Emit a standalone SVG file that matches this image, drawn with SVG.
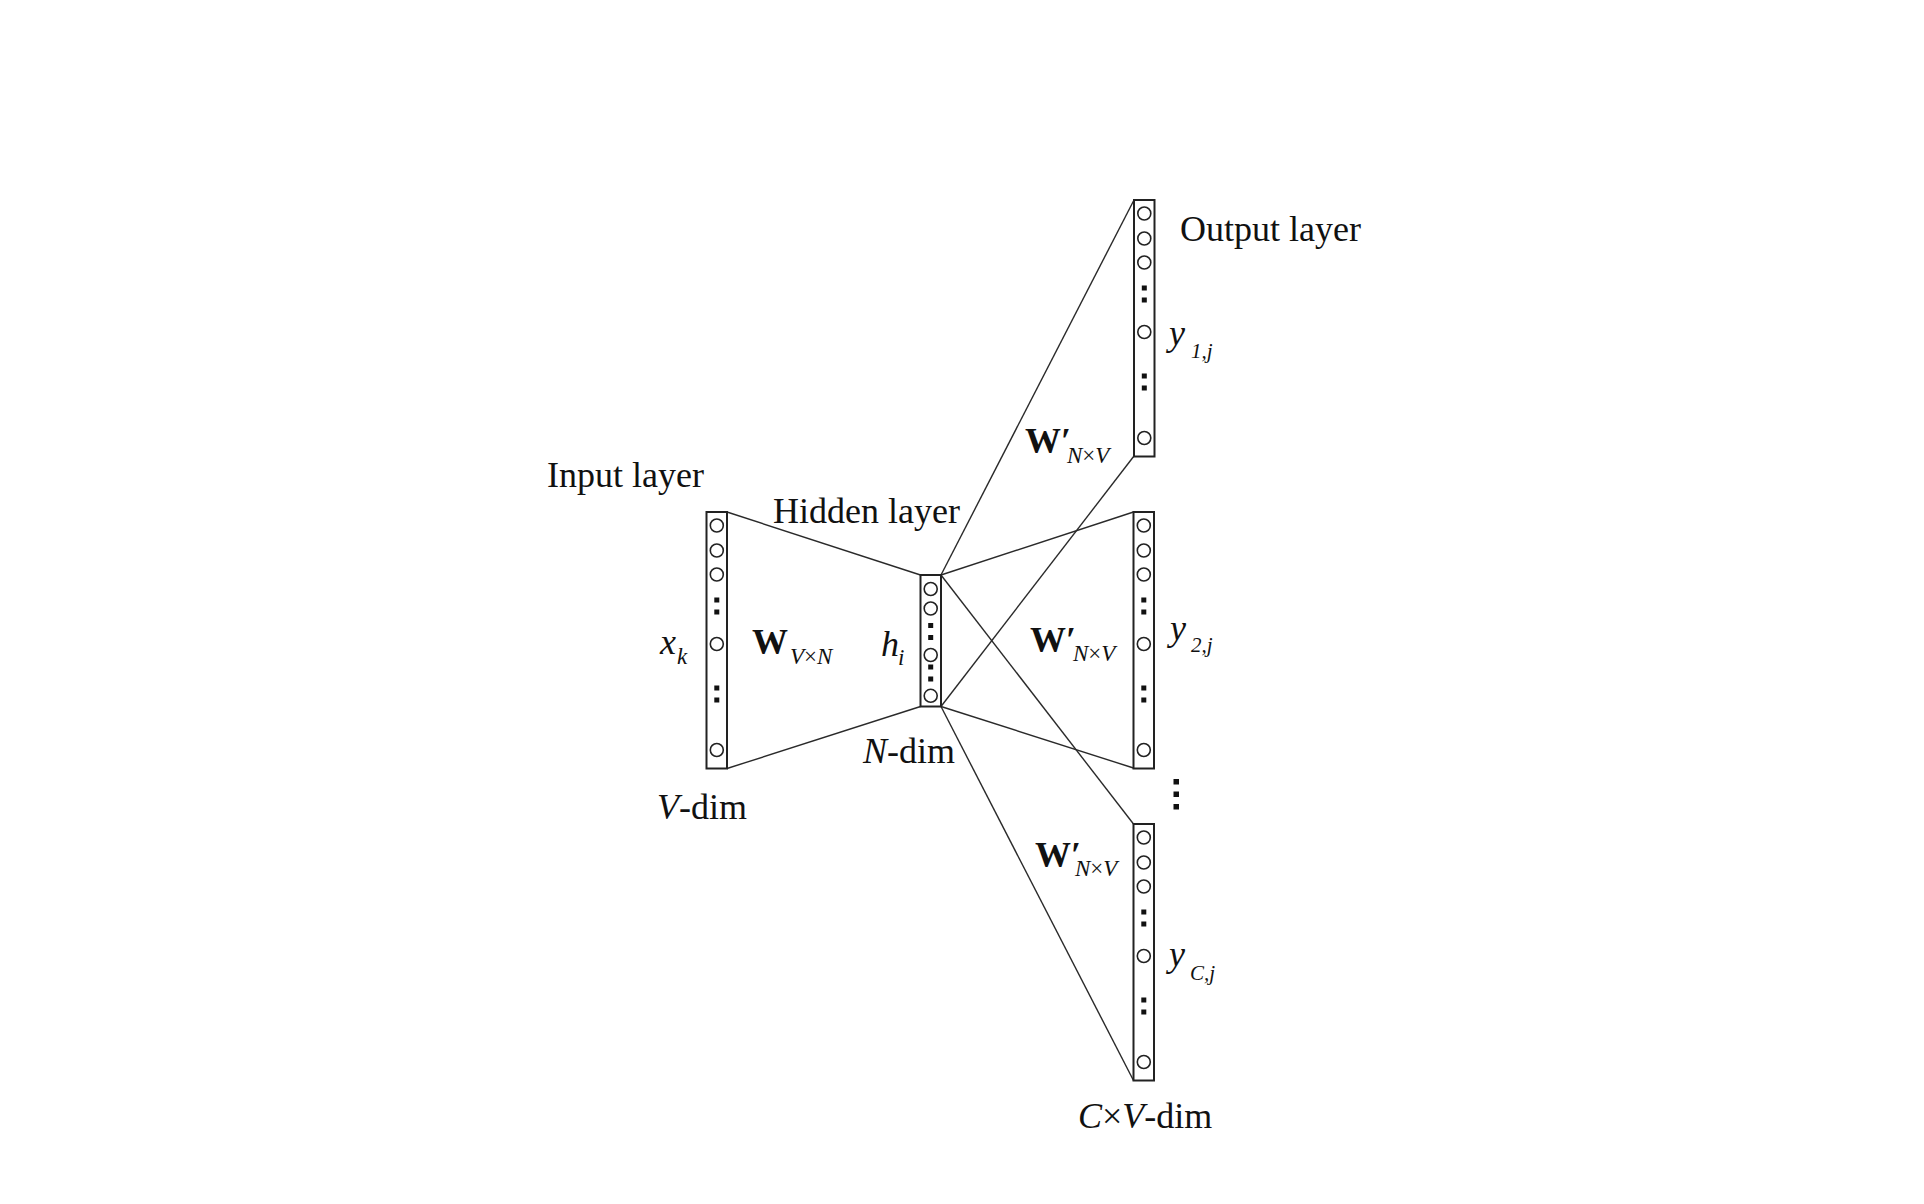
<svg xmlns="http://www.w3.org/2000/svg" xmlns:xlink="http://www.w3.org/1999/xlink" width="1924" height="1204" viewBox="0 0 1924 1204">
<style>
.box{fill:#fff;stroke:#222;stroke-width:2}
.neuron{fill:#fff;stroke:#222;stroke-width:1.6}
.dot{fill:#111}
.conn{stroke:#2a2a2a;stroke-width:1.4;fill:none}
text{font-family:"Liberation Serif","Times New Roman",serif;fill:#111}
.t{font-size:36px}
.sub{font-size:23px;font-style:italic;font-weight:normal}
.ysub{font-size:21px;font-style:italic}
.it{font-style:italic}
.up{font-style:normal}
.bold{font-weight:bold}
</style>
<defs>
<g id="col">
<rect class="box" x="0" y="0" width="20.5" height="256.5"/>
<circle class="neuron" cx="10.3" cy="13.5" r="6.5"/>
<circle class="neuron" cx="10.3" cy="38.5" r="6.5"/>
<circle class="neuron" cx="10.3" cy="62.5" r="6.5"/>
<rect class="dot" x="7.8" y="85.5" width="5" height="5"/>
<rect class="dot" x="7.8" y="97.5" width="5" height="5"/>
<circle class="neuron" cx="10.3" cy="132" r="6.5"/>
<rect class="dot" x="7.8" y="173.5" width="5" height="5"/>
<rect class="dot" x="7.8" y="185.5" width="5" height="5"/>
<circle class="neuron" cx="10.3" cy="238" r="6.5"/>
</g>
</defs>
<rect width="1924" height="1204" fill="#fff"/>
<g id="connectors">
<line class="conn" x1="727" y1="512" x2="920.5" y2="575"/>
<line class="conn" x1="727" y1="768.5" x2="920.5" y2="706.5"/>
<line class="conn" x1="941" y1="575" x2="1134" y2="200"/>
<line class="conn" x1="941" y1="706.5" x2="1134" y2="456"/>
<line class="conn" x1="941" y1="575" x2="1133.5" y2="512"/>
<line class="conn" x1="941" y1="706.5" x2="1133.5" y2="768"/>
<line class="conn" x1="941" y1="575" x2="1133.5" y2="824"/>
<line class="conn" x1="941" y1="706.5" x2="1133.5" y2="1080.5"/>
</g>
<g id="input-layer">
<use xlink:href="#col" href="#col" x="706.5" y="512"/>
<text class="t" x="547" y="487">Input layer</text>
<text class="t" x="660" y="654"><tspan class="it">x</tspan><tspan class="sub" x="677" dy="10">k</tspan></text>
<text class="t" x="752" y="654"><tspan class="bold">W</tspan><tspan class="sub" x="790" dy="10">V<tspan class="up">×</tspan>N</tspan></text>
<text class="t" x="657" y="819"><tspan class="it">V</tspan>-dim</text>
</g>
<g id="hidden-layer">
<rect class="box" x="920.5" y="575" width="20.5" height="131.5"/>
<circle class="neuron" cx="930.7" cy="589" r="6.5"/>
<circle class="neuron" cx="930.7" cy="608.5" r="6.5"/>
<rect class="dot" x="928.2" y="623" width="5" height="5"/>
<rect class="dot" x="928.2" y="635" width="5" height="5"/>
<circle class="neuron" cx="930.7" cy="655" r="6.5"/>
<rect class="dot" x="928.2" y="664.5" width="5" height="5"/>
<rect class="dot" x="928.2" y="676.5" width="5" height="5"/>
<circle class="neuron" cx="930.7" cy="695.8" r="6.5"/>
<text class="t" x="773" y="523">Hidden layer</text>
<text class="t" x="881" y="656"><tspan class="it">h</tspan><tspan class="sub" x="898" dy="9">i</tspan></text>
<text class="t" x="863" y="763"><tspan class="it">N</tspan>-dim</text>
</g>
<g id="output-1">
<use xlink:href="#col" href="#col" x="1134" y="200"/>
<text class="t" x="1180" y="241">Output layer</text>
<text class="t" x="1169" y="345"><tspan class="it">y</tspan><tspan class="ysub" x="1191" dy="13">1,j</tspan></text>
<text class="t" x="1025" y="453"><tspan class="bold">W′</tspan><tspan class="sub" x="1067" dy="10">N<tspan class="up">×</tspan>V</tspan></text>
</g>
<g id="output-2">
<use xlink:href="#col" href="#col" x="1133.5" y="512"/>
<text class="t" x="1170" y="640"><tspan class="it">y</tspan><tspan class="ysub" x="1191" dy="12">2,j</tspan></text>
<text class="t" x="1030" y="652"><tspan class="bold">W′</tspan><tspan class="sub" x="1073" dy="9">N<tspan class="up">×</tspan>V</tspan></text>
</g>
<g id="output-ellipsis">
<rect class="dot" x="1173.5" y="779" width="5.5" height="5.5"/>
<rect class="dot" x="1173.5" y="791.5" width="5.5" height="5.5"/>
<rect class="dot" x="1173.5" y="804" width="5.5" height="5.5"/>
</g>
<g id="output-C">
<use xlink:href="#col" href="#col" x="1133.5" y="824"/>
<text class="t" x="1169" y="966"><tspan class="it">y</tspan><tspan class="ysub" x="1190" dy="14">C,j</tspan></text>
<text class="t" x="1035" y="867"><tspan class="bold">W′</tspan><tspan class="sub" x="1075" dy="9">N<tspan class="up">×</tspan>V</tspan></text>
<text class="t" x="1078" y="1128"><tspan class="it">C</tspan>×<tspan class="it">V</tspan>-dim</text>
</g>
</svg>
